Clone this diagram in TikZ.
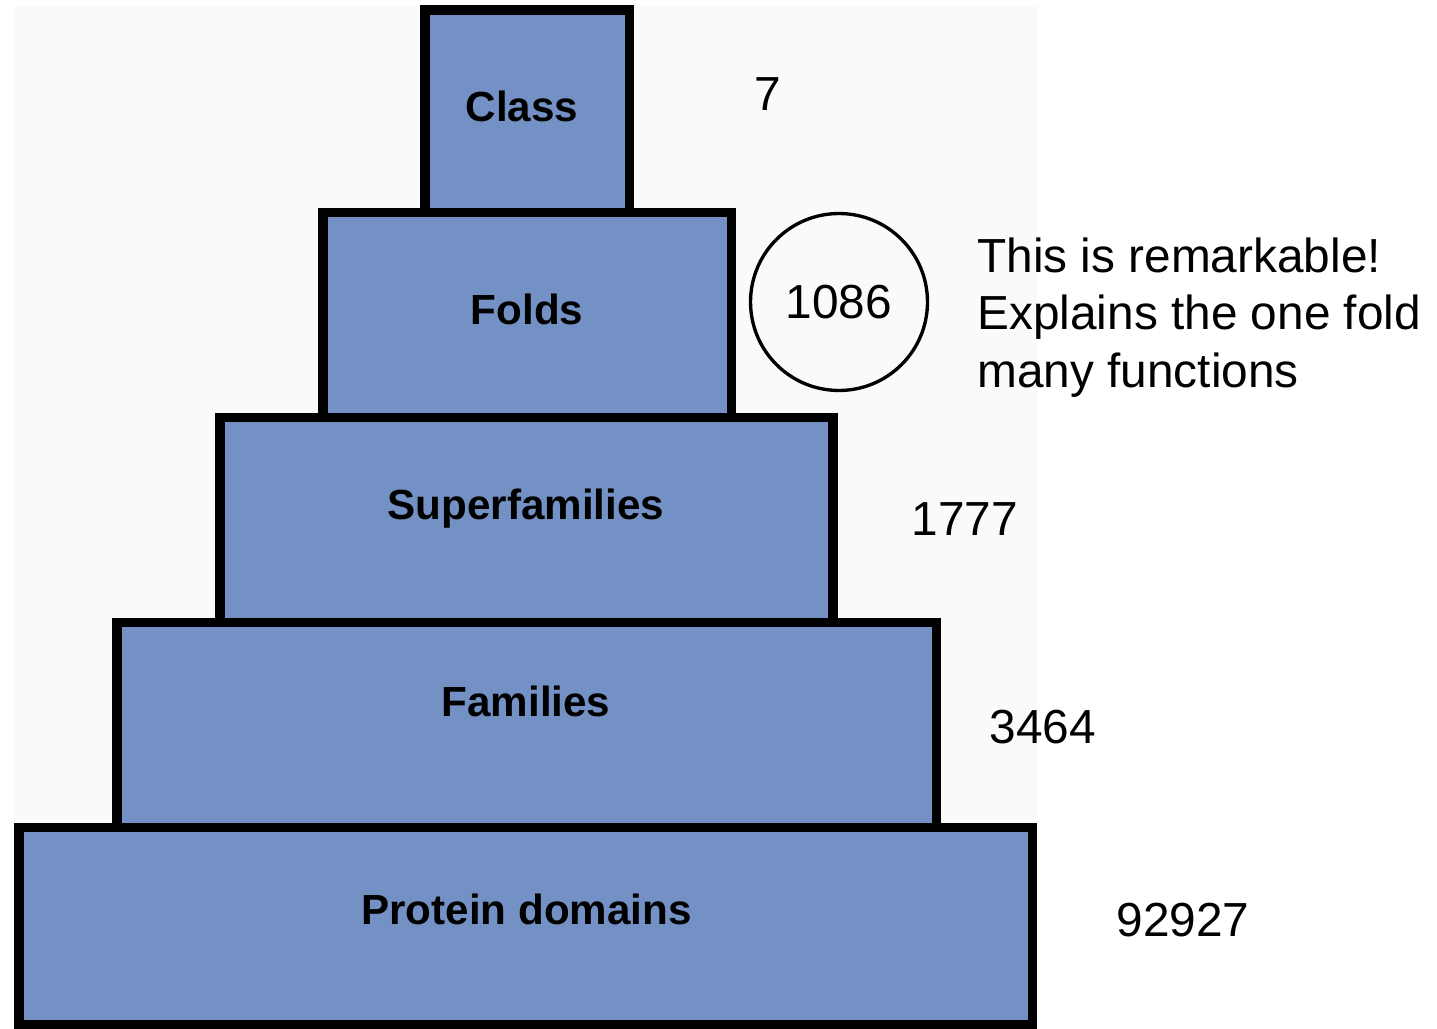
\documentclass[tikz,border=0pt]{standalone}
\usepackage{fontspec}
\setmainfont{Liberation Sans}
\definecolor{tierblue}{RGB}{115,145,197}
\definecolor{paper}{RGB}{250,250,250}
\begin{document}
\begin{tikzpicture}[x=0.02cm,y=-0.02cm,
    tier/.style={draw=black,fill=tierblue,line width=5.67pt},
    tierlabel/.style={anchor=base,inner sep=0pt,font=\bfseries\fontsize{24}{28}\selectfont},
    count/.style={anchor=base,inner sep=0pt,font=\fontsize{27.2}{32.6}\selectfont},
    ring/.style={draw=black,circle,line width=1.9pt,minimum size=3.54cm,inner sep=0pt}]
    \useasboundingbox (0,0) rectangle (1437,1028);
    \fill[paper] (14,6) rectangle (1037,1028);
    \draw[tier] (19,827.5) rectangle (1032.5,1025);
    \draw[tier] (117,622.5) rectangle (936.5,827.5);
    \draw[tier] (220,417.5) rectangle (833,622.5);
    \draw[tier] (323,212.5) rectangle (731.5,417.5);
    \draw[tier] (425,10) rectangle (629.5,212.5);
    \node[tierlabel] (class) at (522,121) {Class};
    \node[tierlabel] (folds) at (527,324) {Folds};
    \node[tierlabel] (superfamilies) at (526,519) {Superfamilies};
    \node[tierlabel] (families) at (526,716) {Families};
    \node[tierlabel] (domains) at (526.5,924) {Protein domains};
    \node[count] (nclass) at (768,110) {7};
    \node[ring,font=\fontsize{27.2}{32.6}\selectfont] (nfolds) at (839,302) {1086};
    \node[count] (nsuper) at (965,535) {1777};
    \node[count] (nfam) at (1043,743) {3464};
    \node[count] (ndom) at (1183,936) {92927};
    \node[count,anchor=base west,align=left] (remark) at (977,387)
        {This is remarkable!\\Explains the one fold\\many functions};
\end{tikzpicture}
\end{document}
